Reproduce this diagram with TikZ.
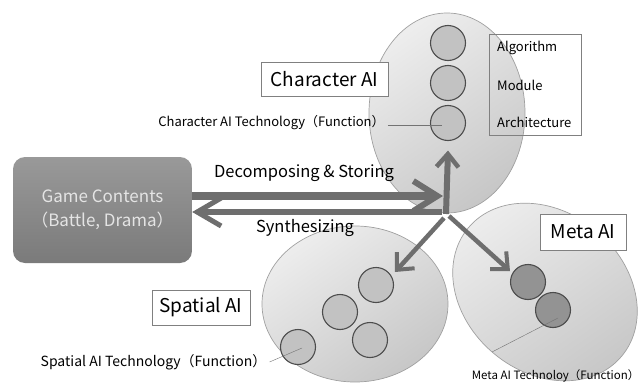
\documentclass[tikz,border=0pt]{standalone}
\usepackage{fontspec}
\setmainfont{Noto Sans CJK JP}
\usetikzlibrary{arrows.meta,shapes.geometric}
\definecolor{arrowgray}{HTML}{6E6E6E}
\definecolor{rimgray}{HTML}{A0A0A0}
\definecolor{gametext}{HTML}{E4E4E4}
\tikzset{
  region/.style={ellipse, draw=rimgray, line width=0.7pt, top color=gray!14, bottom color=gray!44, shading angle=35, inner sep=0},
  tech/.style={circle, draw=black!70, line width=1.1pt, fill=gray!48, minimum size=35pt, inner sep=0},
  metatech/.style={tech, fill=gray!85},
  titlebox/.style={draw=black!50, fill=white, line width=0.7pt, inner sep=0, font=\fontsize{19}{22}\selectfont},
  flowlabel/.style={inner sep=0, font=\fontsize{16.5}{19}\selectfont},
  techlabel/.style={inner sep=0, font=\fontsize{13}{15}\selectfont},
  leader/.style={draw=black!55, line width=0.4pt},
  bigflow/.style={draw=arrowgray, line width=8pt, -{Straight Barb[length=24pt, width=30pt, line width=6pt]}},
  midflow/.style={draw=arrowgray, line width=6pt, -{Straight Barb[length=24pt, width=28pt, line width=5pt]}},
  smallflow/.style={draw=arrowgray, line width=4.5pt, -{Straight Barb[length=13pt, width=24pt, line width=4pt]}},
}
\begin{document}
\begin{tikzpicture}[x=1pt,y=-1pt]
\useasboundingbox (0,0) rectangle (641,383);
% regions
\node[region, minimum width=156pt, minimum height=200pt] (charR) at (447,113) {};
\node[region, minimum width=186pt, minimum height=156pt] (spatR) at (355,304) {};
\node[region, minimum width=200pt, minimum height=160pt, rotate=-40] (metaR) at (545,292) {};
% technologies
\node[tech] (c1) at (448,43) {};
\node[tech] (c2) at (448,83) {};
\node[tech] (c3) at (448,123) {};
\node[tech] (s1) at (376,285) {};
\node[tech] (s2) at (340,312) {};
\node[tech] (s3) at (370,340) {};
\node[tech] (s4) at (298,347) {};
\node[metatech] (m1) at (528,282) {};
\node[metatech] (m2) at (553,310) {};
% layers box
\node[draw=black!50, line width=0.7pt, minimum width=92pt, minimum height=101pt, inner sep=0] (layers) at (535,84.5) {};
\node[techlabel, anchor=west] (alg) at (497,48) {Algorithm};
\node[techlabel, anchor=west] (mod) at (497,85) {Module};
\node[techlabel, anchor=west] (arch) at (497,122) {Architecture};
% game contents
\node[draw=none, rounded corners=12pt, top color=black!40, bottom color=black!52, minimum width=179pt, minimum height=106pt, inner sep=0, align=center, text=gametext, font=\fontsize{17}{24}\selectfont] (game) at (102.5,210) {Game Contents\\（Battle, Drama）};
% flows
\coordinate (jn) at (446,214);
\coordinate (dsEnd) at (443,196);
\coordinate (synStart) at (442,212);
\coordinate (swStart) at (444,218);
\coordinate (swEnd) at (395,272);
\coordinate (seStart) at (449,216);
\coordinate (seEnd) at (510,271);
\draw[bigflow] ([yshift=14pt]game.east) -- (dsEnd);
\draw[midflow] (synStart) -- ([yshift=-2pt]game.east);
\draw[draw=arrowgray, line width=6pt, -{Straight Barb[length=13pt, width=22pt, line width=4.5pt]}] (jn) -- ([yshift=-9.5pt]c3.south);
\draw[smallflow] (swStart) -- (swEnd);
\draw[smallflow] (seStart) -- (seEnd);
\node[flowlabel] (dsl) at (304,173) {Decomposing \& Storing};
\node[flowlabel] (synl) at (305,228) {Synthesizing};
% titles
\node[titlebox, minimum width=127pt, minimum height=34pt] (charT) at (324.5,79) {Character AI};
\node[titlebox, minimum width=86pt, minimum height=36pt] (metaT) at (583,232) {Meta AI};
\node[titlebox, minimum width=98pt, minimum height=35pt] (spatT) at (201,307.5) {Spatial AI};
% technology labels
\node[techlabel] (charL) at (271.5,123) {Character AI Technology（Function）};
\node[techlabel, font=\fontsize{14}{16}\selectfont] (spatL) at (153.5,362) {Spatial AI Technology（Function）};
\node[techlabel, font=\fontsize{11.5}{14}\selectfont, anchor=east] (metaL) at (639.5,376) {Meta AI Technoloy（Function）};
\coordinate (charTip) at (442,125);
\coordinate (spatTip) at (302,348);
\coordinate (metaFoot) at (492,352);
\coordinate (metaTip) at (558,318);
\draw[leader] ([xshift=3pt,yshift=-2pt]charL.east) -- (charTip);
\draw[leader] ([xshift=3pt]spatL.east) -- (spatTip);
\draw[leader] (metaFoot) -- (metaTip);
\end{tikzpicture}
\end{document}
